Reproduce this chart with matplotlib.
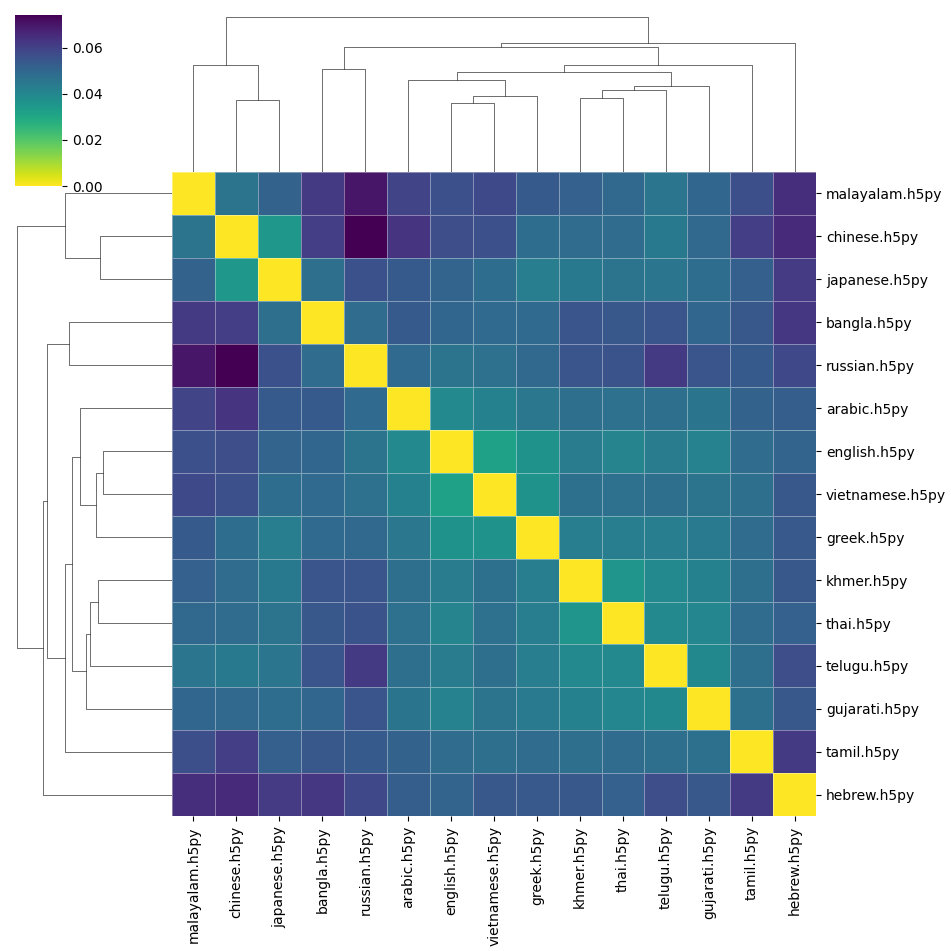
import numpy as np
import matplotlib
matplotlib.use("Agg")
import matplotlib.pyplot as plt

labels = ["malayalam.h5py", "chinese.h5py", "japanese.h5py", "bangla.h5py",
          "russian.h5py", "arabic.h5py", "english.h5py", "vietnamese.h5py",
          "greek.h5py", "khmer.h5py", "thai.h5py", "telugu.h5py",
          "gujarati.h5py", "tamil.h5py", "hebrew.h5py"]

dist = [
    [0, .0461, .0513, .0621, .0703, .0595, .0562, .0580, .0536, .0517, .0495, .0454, .0502, .0565, .0647],
    [.0461, 0, .0350, .0610, .0744, .0632, .0569, .0562, .0480, .0484, .0484, .0443, .0495, .0610, .0655],
    [.0513, .0350, 0, .0476, .0558, .0536, .0506, .0480, .0432, .0443, .0461, .0454, .0480, .0521, .0614],
    [.0621, .0610, .0476, 0, .0484, .0536, .0502, .0491, .0491, .0551, .0543, .0547, .0502, .0543, .0625],
    [.0703, .0744, .0558, .0484, 0, .0491, .0461, .0469, .0495, .0547, .0554, .0618, .0547, .0536, .0584],
    [.0595, .0632, .0536, .0536, .0491, 0, .0394, .0420, .0450, .0476, .0469, .0476, .0458, .0513, .0525],
    [.0562, .0569, .0506, .0502, .0461, .0394, 0, .0320, .0368, .0435, .0409, .0435, .0413, .0484, .0506],
    [.0580, .0562, .0480, .0491, .0469, .0420, .0320, 0, .0365, .0472, .0469, .0476, .0461, .0476, .0543],
    [.0536, .0480, .0432, .0491, .0495, .0450, .0368, .0365, 0, .0432, .0432, .0432, .0439, .0484, .0539],
    [.0517, .0484, .0443, .0551, .0547, .0476, .0435, .0472, .0432, 0, .0357, .0394, .0420, .0476, .0543],
    [.0495, .0484, .0461, .0543, .0554, .0469, .0409, .0469, .0432, .0357, 0, .0394, .0402, .0484, .0517],
    [.0454, .0443, .0454, .0547, .0618, .0476, .0435, .0476, .0432, .0394, .0394, 0, .0398, .0476, .0569],
    [.0502, .0495, .0480, .0502, .0547, .0458, .0413, .0461, .0439, .0420, .0402, .0398, 0, .0472, .0543],
    [.0565, .0610, .0521, .0543, .0536, .0513, .0484, .0476, .0484, .0476, .0484, .0476, .0472, 0, .0618],
    [.0647, .0655, .0614, .0625, .0584, .0525, .0506, .0543, .0539, .0543, .0517, .0569, .0543, .0618, 0],
]

# linkage: (child_a, child_b, height); leaves 0..14 in display order, new ids from 15
linkage = [
    (1, 2, 0.717),
    (0, 15, 1.070),
    (3, 4, 1.030),
    (6, 7, 0.693),
    (18, 8, 0.763),
    (5, 19, 0.917),
    (9, 10, 0.737),
    (21, 11, 0.823),
    (22, 12, 0.857),
    (20, 23, 0.997),
    (24, 13, 1.067),
    (17, 25, 1.250),
    (26, 14, 1.287),
    (16, 27, 1.553),
]

data = np.array(dist)
n = len(labels)

W = H = 951
fig = plt.figure(figsize=(W / 100, H / 100), dpi=100)

def frac(x0, y0, x1, y1):
    return [x0 / W, 1 - y1 / H, (x1 - x0) / W, (y1 - y0) / H]

hm_l, hm_t, hm_r, hm_b = 172, 172, 816.3, 816.3
ax = fig.add_axes(frac(hm_l, hm_t, hm_r, hm_b))
ax_col = fig.add_axes(frac(hm_l, 8.9, hm_r, hm_t))
ax_row = fig.add_axes(frac(8.9, hm_t, hm_l, hm_b))
cax = fig.add_axes(frac(15, 14.5, 62, 186))

mesh = ax.pcolormesh(data, cmap="viridis_r", vmin=0, vmax=data.max(),
                     edgecolors=(1, 1, 1, 0.38), linewidth=0.7)
ax.set_xlim(0, n)
ax.set_ylim(n, 0)
ax.set_xticks(np.arange(n) + 0.5)
ax.set_xticklabels(labels, rotation=90, fontsize=10)
ax.set_yticks(np.arange(n) + 0.5)
ax.set_yticklabels(labels, fontsize=10)
ax.yaxis.tick_right()
for s in ax.spines.values():
    s.set_visible(False)

# dendrogram coordinates
pos = {i: i + 0.5 for i in range(n)}
hgt = {i: 0.0 for i in range(n)}
segs = []
for k, (a, b, h) in enumerate(linkage):
    nid = n + k
    segs.append(([pos[a], pos[a], pos[b], pos[b]], [hgt[a], h, h, hgt[b]]))
    pos[nid] = (pos[a] + pos[b]) / 2
    hgt[nid] = h
maxh = max(h for _, _, h in linkage)

for xs, hs in segs:
    ax_col.plot(xs, hs, color="0.2", lw=0.5)
    ax_row.plot(hs, xs, color="0.2", lw=0.5)
ax_col.set_xlim(0, n)
ax_col.set_ylim(0, maxh * 1.05)
ax_row.set_ylim(n, 0)
ax_row.set_xlim(maxh * 1.05, 0)
for a in (ax_col, ax_row):
    a.set_axis_off()

cb = fig.colorbar(mesh, cax=cax)
cb.set_ticks([0.0, 0.02, 0.04, 0.06])
cb.set_ticklabels(["0.00", "0.02", "0.04", "0.06"])
cb.outline.set_linewidth(0)
cax.tick_params(labelsize=10)

fig.savefig("out.png", dpi=100)
